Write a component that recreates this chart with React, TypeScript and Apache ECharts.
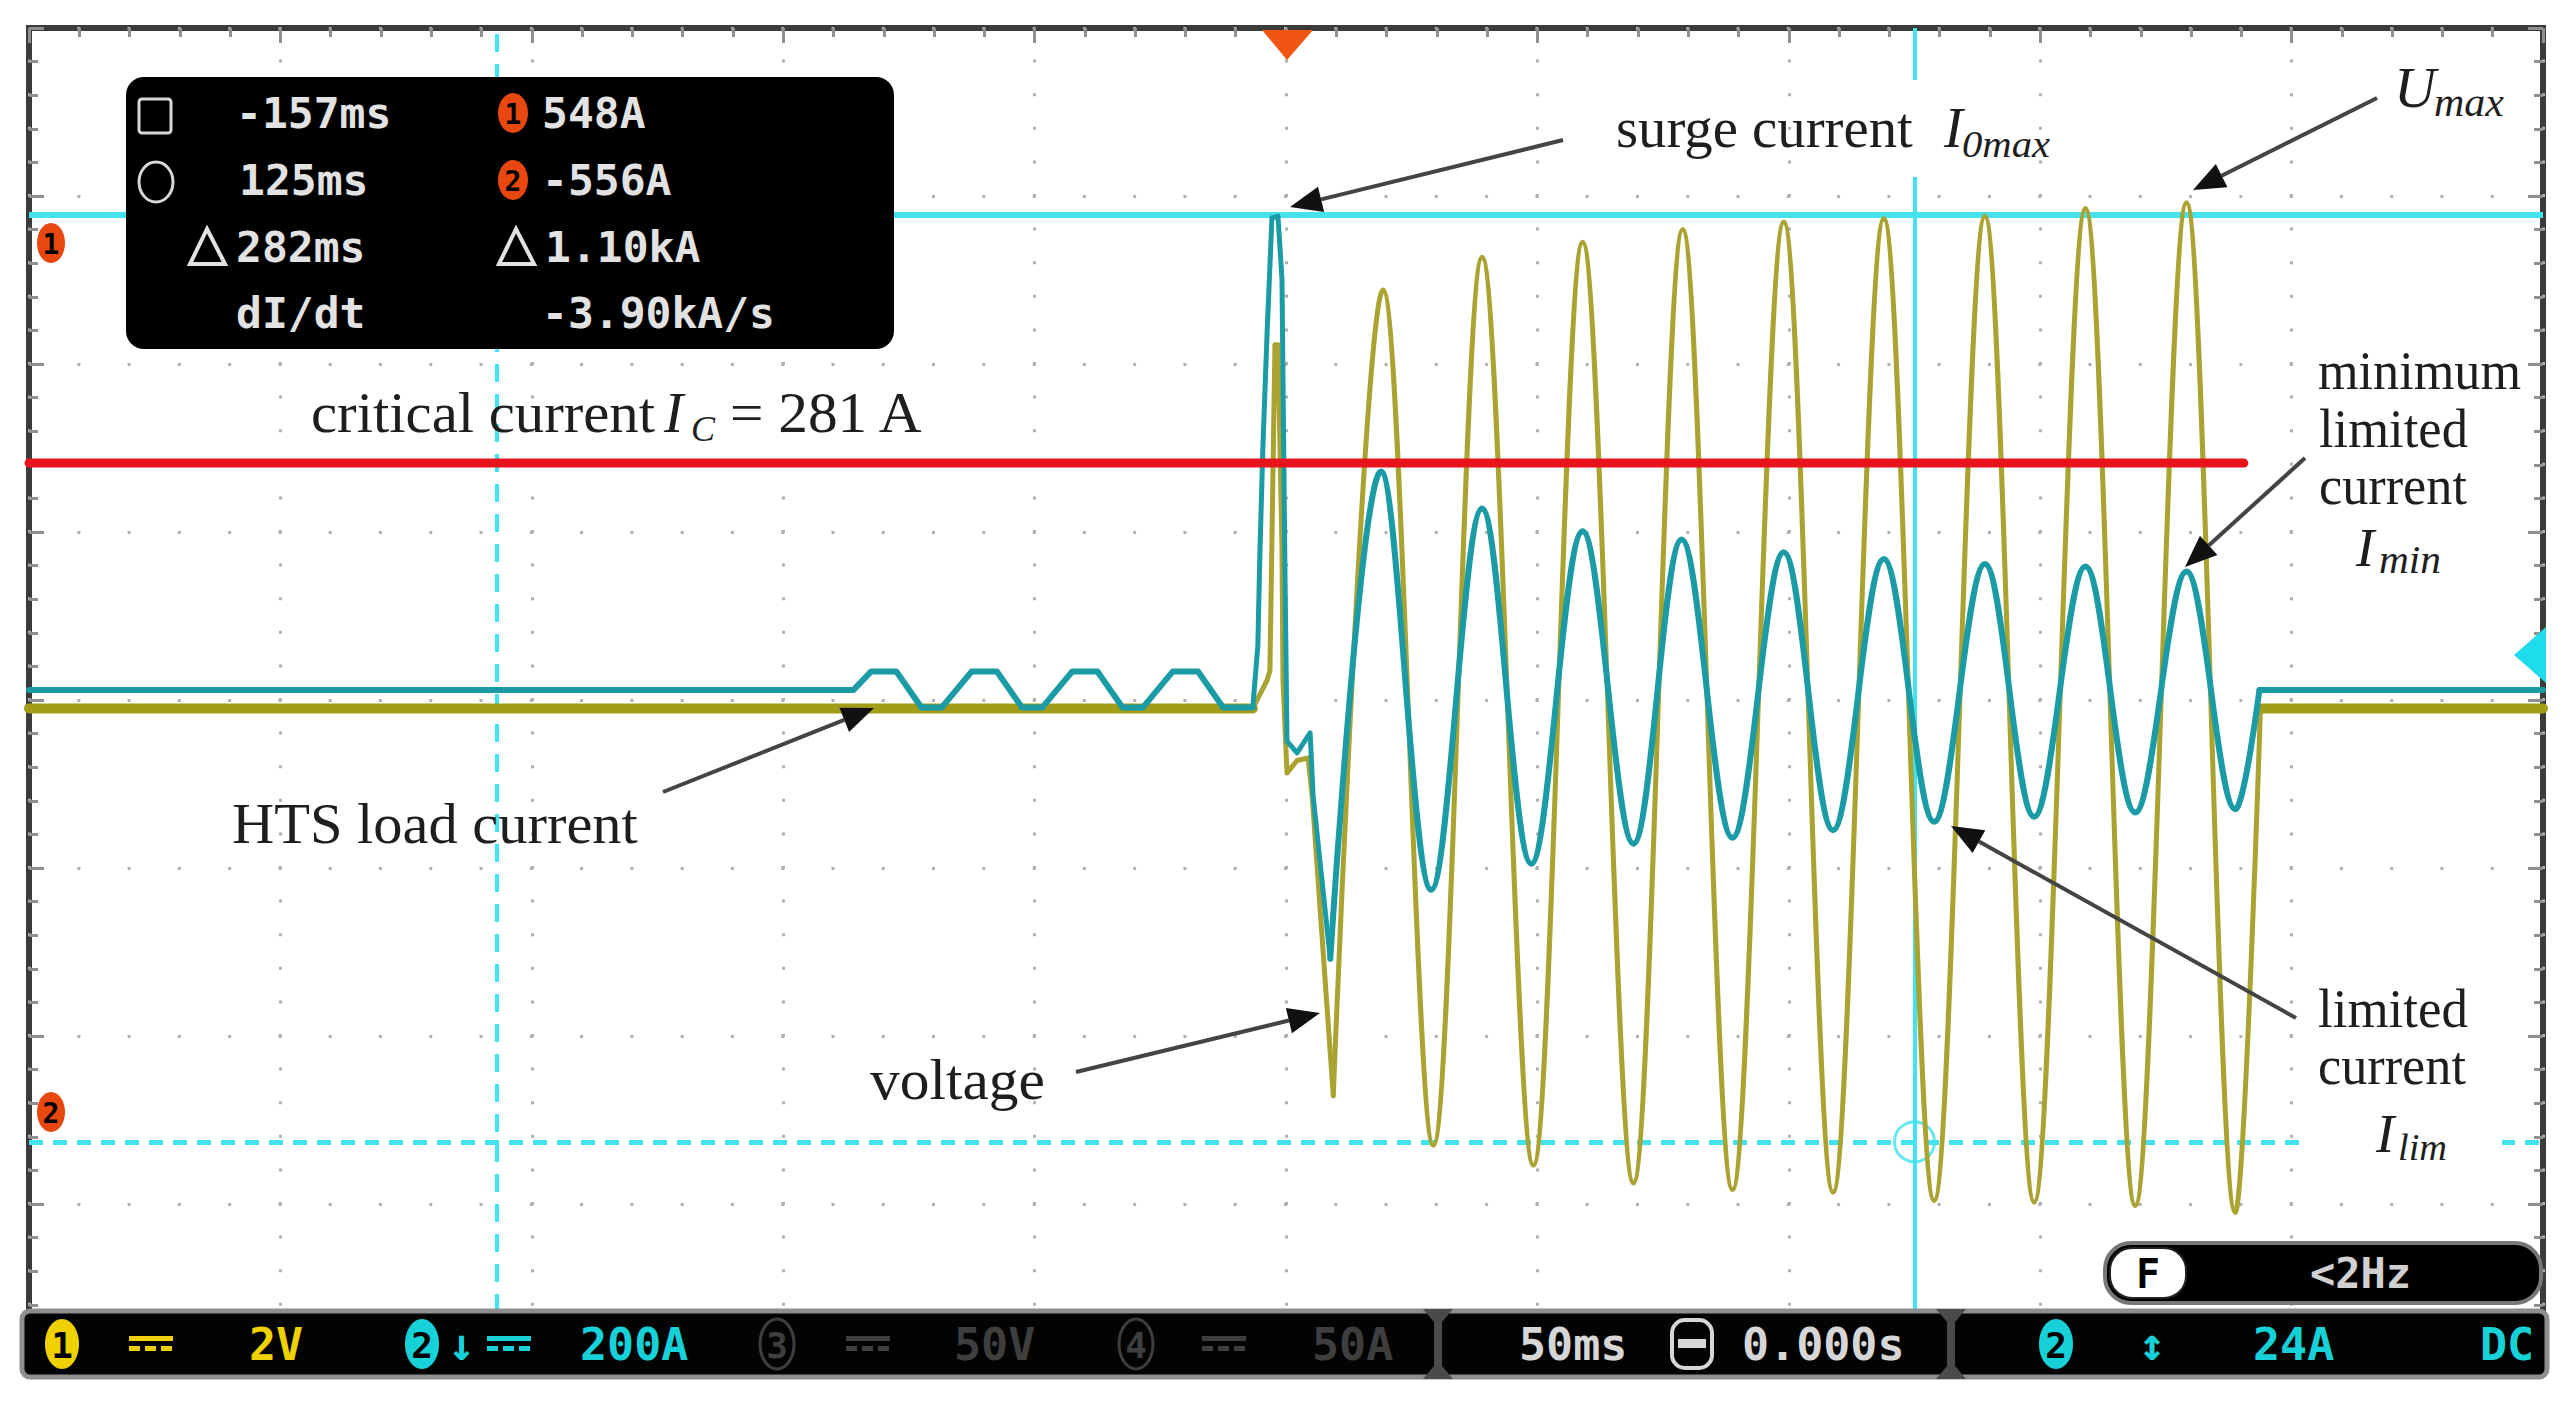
import React, { useEffect, useRef } from 'react';
import * as echarts from 'echarts';

const W = 2572;
const H = 1402;

// ---- oscilloscope scales: 50 ms/div (time), ch1 2 V/div, ch2 200 A/div ----
const TIME_MIN = -250;
const TIME_MAX = 250;
const TIME_DIV = 50;
const DIV_MIN = -4;
const DIV_MAX = 4;
const CURRENT_MIN = -830;
const CURRENT_MAX = 770;
const VOLTAGE_MIN = -7.9;
const VOLTAGE_MAX = 8.1;

// ---- channel 1: voltage (V) vs time (ms) ----
const voltagePreFault = [[-250, 0], [-6.6, 0]];
const voltageSurge = [
  [-6.6, 0], [-3.8, 0.33], [-3.2, 0.45], [-2.2, 4.33], [-1.6, 4.33], [-0.8, 1.92],
  [-0.6, 0.33], [0.2, -0.77], [2.2, -0.62], [4.4, -0.59], [5.2, -1.04], [9.4, -4.61],
];
const voltageFault = [
  [9.4, -4.61], [19.3, 4.98], [29.3, -5.2], [39.0, 5.37], [49.2, -5.44], [59.0, 5.55],
  [69.1, -5.65], [78.9, 5.7], [88.8, -5.73], [99.0, 5.79], [108.8, -5.76], [118.9, 5.83],
  [128.9, -5.86], [139.0, 5.86], [148.8, -5.88], [159.0, 5.95], [168.9, -5.92], [179.1, 6.02],
  [188.8, -6.0], [193.8, 0],
];
const voltagePostFault = [[193.8, 0], [250, 0]];

// ---- channel 2: current (A) vs time (ms) ----
const currentPreFault = [
  [-250, -18], [-86, -18], [-82.5, 4], [-77.5, 4], [-72.5, -39], [-68.5, -39], [-62.5, 4],
  [-57.5, 4], [-52.5, -39], [-48.5, -39], [-42.5, 4], [-37.5, 4], [-32.5, -39], [-28.5, -39],
  [-22.5, 4], [-17.5, 4], [-12.5, -39], [-6.6, -39],
];
const currentSurge = [
  [-6.6, -39], [-5.6, 35], [-5.2, 143], [-4.6, 270], [-3.8, 401], [-2.8, 544], [-1.6, 546],
  [-0.8, 471], [-0.2, 119], [0.2, -79], [2.2, -93], [4.8, -69], [5.4, -145], [8.8, -338],
];
const currentFault = [
  [8.8, -338], [18.9, 242], [28.9, -256], [39.0, 198], [48.8, -225], [59.0, 171],
  [69.1, -201], [78.7, 161], [88.8, -194], [99.0, 146], [108.8, -185], [118.9, 138],
  [128.9, -175], [139.0, 132], [148.8, -169], [159.0, 129], [168.9, -164], [179.1, 123],
  [188.8, -160], [193.6, -18],
];
const currentPostFault = [[193.6, -18], [250, -18]];

// ---- cursors and critical current marker ----
const cursorTimesMs = [-157, 125];
const cursorCurrentsA = [548, -556];
const criticalCurrentLine = [[-250, 252], [190.5, 252]];

// ---- readout texts ----
const readoutLeft = ['-157ms', '125ms', '282ms', 'dI/dt'];
const readoutRight = ['548A', '-556A', '1.10kA', '-3.90kA/s'];

const OLIVE = '#aba331';
const TEAL = '#1b9ba6';
const CURSOR = '#42e2ef';
const MONO = '"DejaVu Sans Mono"';
const SERIF = '"Liberation Serif"';

function buildOption() {
  const ctx = document.createElement('canvas').getContext('2d');
  const measure = (t: string, font: string) => {
    if (!ctx) return 0;
    ctx.font = font;
    return ctx.measureText(t).width;
  };

  const els: any[] = [];
  const add = (e: any) => els.push(e);

  const serif = (text: string, left: number, base: number, size: number, italic: boolean, width = 0) => {
    const font = `${italic ? 'italic ' : ''}${size}px ${SERIF}`;
    const w = measure(text, font);
    const sx = width && w ? width / w : 1;
    add({
      type: 'text', x: left, y: base - 0.335 * size, scaleX: sx, z: 62, silent: true,
      style: { text, x: 0, y: 0, font, fill: '#1e1e1e', align: 'left', verticalAlign: 'middle', textAlign: 'left', textVerticalAlign: 'middle' },
    });
  };
  const mono = (text: string, left: number, cy: number, size: number, fill: string, align = 'left') => {
    add({
      type: 'text', x: left, y: cy, z: 72, silent: true,
      style: { text, x: 0, y: 0, font: `bold ${size}px ${MONO}`, fill, align, verticalAlign: 'middle', textAlign: align, textVerticalAlign: 'middle' },
    });
  };
  const arrow = (x1: number, y1: number, x2: number, y2: number) => {
    const a = Math.atan2(y2 - y1, x2 - x1);
    const L = 32, Wd = 13;
    const bx = x2 - L * Math.cos(a), by = y2 - L * Math.sin(a);
    const px = -Math.sin(a) * Wd, py = Math.cos(a) * Wd;
    add({ type: 'line', z: 63, silent: true, shape: { x1, y1, x2: bx, y2: by }, style: { stroke: '#444', lineWidth: 4 } });
    add({ type: 'polygon', z: 63, silent: true, shape: { points: [[x2, y2], [bx + px, by + py], [bx - px, by - py]] }, style: { fill: '#111' } });
  };
  const circled = (cx: number, cy: number, rx: number, ry: number, fill: string, label: string, size: number, outline = false) => {
    add({
      type: 'ellipse', z: 71, silent: true, shape: { cx, cy, rx, ry },
      style: outline ? { fill: 'none', stroke: fill, lineWidth: 3 } : { fill },
    });
    mono(label, cx, cy + 1, size, outline ? fill : '#000', 'center');
  };

  // white patches behind annotation labels
  add({ type: 'rect', z: 55, silent: true, shape: { x: 1905, y: 80, width: 20, height: 97 }, style: { fill: '#fff' } });
  add({ type: 'rect', z: 55, silent: true, shape: { x: 2306, y: 350, width: 222, height: 232 }, style: { fill: '#fff' } });
  add({ type: 'rect', z: 55, silent: true, shape: { x: 2300, y: 985, width: 202, height: 182 }, style: { fill: '#fff' } });

  // annotations
  serif('critical current', 311, 432, 58, false, 344);
  serif('I', 664, 432, 58, true);
  serif('C', 691, 441, 36, true);
  serif('= 281 A', 730, 432, 58, false, 195);
  serif('HTS load current', 232, 843, 58, false, 406);
  serif('voltage', 870, 1099, 58, false, 175);
  serif('surge current', 1616, 147, 57, false, 297);
  serif('I', 1944, 147, 57, true);
  serif('0max', 1962, 157, 38, true, 88);
  serif('U', 2394, 107, 58, true);
  serif('max', 2434, 116, 40, true, 70);
  serif('minimum', 2318, 389, 55, false, 203);
  serif('limited', 2319, 447, 55, false, 149);
  serif('current', 2319, 504, 55, false, 148);
  serif('I', 2356, 566, 55, true);
  serif('min', 2379, 573, 40, true, 62);
  serif('limited', 2318, 1027, 55, false, 150);
  serif('current', 2318, 1084, 55, false, 148);
  serif('I', 2376, 1152, 55, true);
  serif('lim', 2398, 1160, 38, true, 49);

  arrow(1563, 140, 1290, 207);
  arrow(2377, 98, 2193, 190);
  arrow(2305, 458, 2185, 567);
  arrow(2296, 1018, 1951, 826);
  arrow(1076, 1072, 1320, 1013);
  arrow(663, 792, 874, 708);

  // markers on the graticule edges
  add({ type: 'polygon', z: 70, silent: true, shape: { points: [[1262, 30], [1313, 30], [1287, 60]] }, style: { fill: '#f05514' } });
  add({ type: 'polygon', z: 70, silent: true, shape: { points: [[2546, 627], [2546, 683], [2514, 655]] }, style: { fill: '#1fdcec' } });
  circled(51, 243, 14, 20, '#e8470f', '1', 28);
  circled(51, 1112, 14, 20, '#e8470f', '2', 28);

  // cursor readout box
  add({ type: 'rect', z: 70, silent: true, shape: { x: 126, y: 77, width: 768, height: 272, r: 18 }, style: { fill: '#000' } });
  add({ type: 'rect', z: 71, silent: true, shape: { x: 139, y: 99, width: 32, height: 34, r: 3 }, style: { fill: 'none', stroke: '#d8d8d8', lineWidth: 3 } });
  add({ type: 'ellipse', z: 71, silent: true, shape: { cx: 156, cy: 182, rx: 17, ry: 20 }, style: { fill: 'none', stroke: '#d8d8d8', lineWidth: 3 } });
  add({ type: 'polygon', z: 71, silent: true, shape: { points: [[207, 229], [190, 264], [225, 264]] }, style: { fill: 'none', stroke: '#e2e2e2', lineWidth: 4 } });
  add({ type: 'polygon', z: 71, silent: true, shape: { points: [[516, 229], [499, 264], [534, 264]] }, style: { fill: 'none', stroke: '#e2e2e2', lineWidth: 4 } });
  const rowsY = [113, 180, 247, 313];
  const leftX = [236, 239, 236, 236];
  const rightX = [542, 542, 545, 542];
  readoutLeft.forEach((t, i) => mono(t, leftX[i], rowsY[i], 43, '#e2e2e2'));
  readoutRight.forEach((t, i) => mono(t, rightX[i], rowsY[i], 43, '#e2e2e2'));
  circled(513, 113, 15, 20, '#e8470f', '1', 28);
  circled(513, 180, 15, 20, '#e8470f', '2', 28);

  // trigger frequency box
  add({ type: 'rect', z: 70, silent: true, shape: { x: 2105, y: 1243, width: 436, height: 60, r: 26 }, style: { fill: '#000', stroke: '#777', lineWidth: 4 } });
  add({ type: 'rect', z: 71, silent: true, shape: { x: 2110, y: 1248, width: 76, height: 50, r: 22 }, style: { fill: '#fff', stroke: '#222', lineWidth: 2 } });
  mono('F', 2148, 1274, 40, '#000', 'center');
  mono('<2Hz', 2310, 1273, 42, '#d0d0d0');

  // status bar
  const SY = 1344;
  add({ type: 'rect', z: 70, silent: true, shape: { x: 22, y: 1311, width: 2525, height: 66, r: 8 }, style: { fill: '#030303', stroke: '#8e8e8e', lineWidth: 5 } });
  const sep = (c: number) =>
    add({
      type: 'polygon', z: 71, silent: true,
      shape: { points: [[c - 15, 1309], [c + 15, 1309], [c + 4, 1322], [c + 4, 1366], [c + 15, 1379], [c - 15, 1379], [c - 4, 1366], [c - 4, 1322]] },
      style: { fill: '#4a4a4a' },
    });
  sep(1438);
  sep(1951);
  const dc = (x: number, color: string) => {
    add({ type: 'rect', z: 71, silent: true, shape: { x, y: SY - 8, width: 44, height: 5 }, style: { fill: color } });
    for (let i = 0; i < 3; i++) add({ type: 'rect', z: 71, silent: true, shape: { x: x + i * 16, y: SY + 2, width: 11, height: 5 }, style: { fill: color } });
  };
  const YEL = '#efd000', CY = '#16d2d8', GR = '#3e3e3e', WH = '#d6d6d6';
  circled(62, SY, 17, 25, YEL, '1', 36);
  dc(129, YEL);
  mono('2V', 249, SY, 45, YEL);
  circled(422, SY, 17, 25, CY, '2', 36);
  mono('↓', 448, SY, 45, CY);
  dc(487, CY);
  mono('200A', 580, SY, 45, CY);
  circled(777, SY, 17, 25, GR, '3', 36, true);
  dc(846, GR);
  mono('50V', 954, SY, 45, GR);
  circled(1136, SY, 17, 25, GR, '4', 36, true);
  dc(1202, GR);
  mono('50A', 1312, SY, 45, GR);
  mono('50ms', 1519, SY, 45, WH);
  add({ type: 'rect', z: 71, silent: true, shape: { x: 1672, y: 1320, width: 40, height: 48, r: 13 }, style: { fill: 'none', stroke: WH, lineWidth: 4 } });
  add({ type: 'rect', z: 71, silent: true, shape: { x: 1678, y: 1339, width: 28, height: 9 }, style: { fill: WH } });
  mono('0.000s', 1742, SY, 45, WH);
  circled(2056, SY, 17, 25, CY, '2', 36);
  mono('↕', 2152, SY, 45, CY, 'center');
  mono('24A', 2253, SY, 45, CY);
  mono('DC', 2480, SY, 45, CY);

  const tickStyle = { color: '#8f8f8f', width: 3 };
  const edgeX = (position: string, split: boolean) => ({
    type: 'value', min: TIME_MIN, max: TIME_MAX, interval: TIME_DIV, position,
    axisLine: { show: false, onZero: false }, axisLabel: { show: false },
    axisTick: { show: true, inside: true, length: 15, lineStyle: tickStyle },
    minorTick: { show: true, splitNumber: 5, length: 9, lineStyle: tickStyle },
    splitLine: { show: split, lineStyle: { color: '#b0b0b0', width: 3, type: [3, 30.6], dashOffset: 1.5 } },
  });
  const edgeY = (position: string, split: boolean) => ({
    type: 'value', min: DIV_MIN, max: DIV_MAX, interval: 1, position,
    axisLine: { show: false, onZero: false }, axisLabel: { show: false },
    axisTick: { show: true, inside: true, length: 15, lineStyle: tickStyle },
    minorTick: { show: true, splitNumber: 5, length: 9, lineStyle: tickStyle },
    splitLine: { show: split, lineStyle: { color: '#b0b0b0', width: 3, type: [3, 47.28], dashOffset: 1.5 } },
  });

  const trace = (data: number[][], yAxisIndex: number, color: string, width: number, smooth: number | boolean, z: number) => ({
    type: 'line', xAxisIndex: 0, yAxisIndex, data, symbol: 'none', smooth, silent: true, z,
    lineStyle: { color, width, cap: 'round', join: 'round' },
  });

  return {
    animation: false,
    backgroundColor: '#ffffff',
    grid: { left: 29, right: 29, top: 28, bottom: 30, show: true, borderColor: '#3b3b3b', borderWidth: 6, backgroundColor: '#ffffff' },
    xAxis: [edgeX('top', true), edgeX('bottom', false)],
    yAxis: [
      edgeY('left', true),
      edgeY('right', false),
      { type: 'value', min: CURRENT_MIN, max: CURRENT_MAX, show: false, axisLine: { onZero: false } },
      { type: 'value', min: VOLTAGE_MIN, max: VOLTAGE_MAX, show: false, axisLine: { onZero: false } },
    ],
    series: [
      {
        type: 'scatter', xAxisIndex: 0, yAxisIndex: 2, z: 1, silent: true,
        data: [[cursorTimesMs[1], cursorCurrentsA[1]]],
        symbol: 'circle', symbolSize: 40,
        itemStyle: { color: 'rgba(0,0,0,0)', borderColor: CURSOR, borderWidth: 3 },
        markLine: {
          z: 1, silent: true, symbol: ['none', 'none'], label: { show: false },
          data: [
            { yAxis: cursorCurrentsA[0], lineStyle: { color: CURSOR, width: 6, type: 'solid' } },
            { yAxis: cursorCurrentsA[1], lineStyle: { color: CURSOR, width: 5, type: [14, 10] } },
            { xAxis: cursorTimesMs[0], lineStyle: { color: CURSOR, width: 4, type: [18, 12] } },
            { xAxis: cursorTimesMs[1], lineStyle: { color: CURSOR, width: 4, type: 'solid' } },
          ],
        },
      },
      trace(voltagePreFault, 3, '#a39c18', 10, false, 10),
      trace(voltageSurge, 3, OLIVE, 5, false, 10),
      trace(voltageFault, 3, OLIVE, 5, 0.36, 10),
      trace(voltagePostFault, 3, '#a39c18', 10, false, 10),
      trace(currentPreFault, 2, TEAL, 6, false, 11),
      trace(currentSurge, 2, TEAL, 5, false, 11),
      trace(currentFault, 2, TEAL, 6, 0.36, 11),
      trace(currentPostFault, 2, TEAL, 6, false, 11),
      trace(criticalCurrentLine, 2, '#e8141c', 9, false, 12),
    ],
    graphic: { elements: els },
  };
}

export default function App() {
  const ref = useRef<HTMLDivElement>(null);
  useEffect(() => {
    document.body.style.margin = '0';
    const chart = echarts.init(ref.current as HTMLDivElement, null, { renderer: 'svg', width: W, height: H });
    chart.setOption(buildOption() as any);
    return () => chart.dispose();
  }, []);
  return <div ref={ref} style={{ position: 'absolute', left: 0, top: 0, width: W, height: H }} />;
}
